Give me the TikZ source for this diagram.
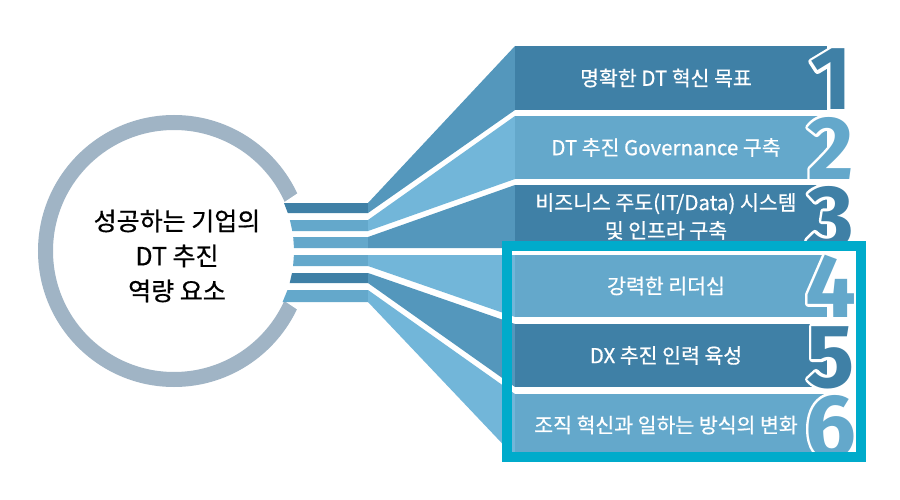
\documentclass[tikz,border=0pt]{standalone}
\usepackage{fontspec}
\setmainfont{Noto Sans CJK KR}
\newfontfamily\medfont{Noto Sans CJK KR}[FakeBold=0.6]
\newfontfamily\digitfont{Fira Sans}
\definecolor{bdark}{HTML}{3F80A6}
\definecolor{blight}{HTML}{64A8CB}
\definecolor{fmed}{HTML}{5497BC}
\definecolor{flight}{HTML}{72B6D9}
\definecolor{ringc}{HTML}{A0B4C5}
\definecolor{cyanbox}{HTML}{00ABCB}
\newcommand\outlined[1]{\special{pdf:literal direct 1 Tr 6 w 1 j 1 1 1 RG}#1\special{pdf:literal direct 0 Tr}}
\newcommand\mydigit[4]{%
  \node[numfont] at #2 {\outlined{#4}};
  \node[numfont,text=#3] (#1) at #2 {#4};}
\begin{document}
\begin{tikzpicture}[x=1pt,y=-1pt,
  bartext/.style={text=white,font=\medfont\fontsize{20.5}{28}\selectfont,align=center,inner sep=0pt},
  numfont/.style={font=\digitfont\bfseries\fontsize{90}{90}\selectfont,inner sep=0pt,anchor=base}]
\useasboundingbox[fill=white] (0,0) rectangle (900,500);
% ring
\draw[ringc,line width=15pt] (174,251) circle[radius=128.5pt];
\fill[white] (280,205) -- (310,185) -- (340,185) -- (340,318) -- (310,318) -- (280,298) -- cycle;
\node[font=\medfont\fontsize{25}{35}\selectfont,align=center,inner sep=0pt] (center) at (177,256) {성공하는 기업의\\DT 추진\\역량 요소};
% stripes
\fill[bdark]  (284,203) -- (368,203) -- (368,213) -- (287.8,213) -- cycle;
\fill[blight] (289.9,220) -- (368,220) -- (368,231) -- (292.3,231) -- cycle;
\fill[blight] (293.2,237) -- (368,237) -- (368,248) -- (294,248) -- cycle;
\fill[blight] (293.9,255) -- (368,255) -- (368,266) -- (293.1,266) -- cycle;
\fill[bdark]  (292,273) -- (368,273) -- (368,283) -- (289.7,283) -- cycle;
\fill[blight] (287.5,290) -- (368,290) -- (368,302) -- (282.6,302) -- cycle;
% fans
\fill[fmed]   (368,203) -- (515,46)  -- (515,110) -- (368,213) -- cycle;
\fill[flight] (368,220) -- (515,116) -- (515,179) -- (368,231) -- cycle;
\fill[fmed]   (368,237) -- (515,185) -- (515,248) -- (368,248) -- cycle;
\fill[flight] (368,255) -- (515,255) -- (515,317) -- (368,266) -- cycle;
\fill[fmed]   (368,273) -- (515,324) -- (515,387) -- (368,283) -- cycle;
\fill[flight] (368,290) -- (515,394) -- (515,457) -- (368,302) -- cycle;
% bars
\fill[bdark]  (515,46)  rectangle (827,110);
\fill[blight] (515,116) rectangle (827,179);
\fill[bdark]  (515,185) rectangle (827,248);
\fill[blight] (515,255) rectangle (827,317);
\fill[bdark]  (515,324) rectangle (827,387);
\fill[blight] (515,394) rectangle (827,457);
% texts
\node[bartext] (t1) at (666,78) {명확한 DT 혁신 목표};
\node[bartext] (t2) at (666,147.5) {DT 추진 Governance 구축};
\node[bartext] (t3) at (666,216.5) {비즈니스 주도(IT/Data) 시스템\\및 인프라 구축};
\node[bartext] (t4) at (666,286) {강력한 리더십};
\node[bartext] (t5) at (666,355.5) {DX 추진 인력 육성};
\node[bartext] (t6) at (666,425) {조직 혁신과 일하는 방식의 변화};
% digits
\mydigit{n1}{(831,110)}{bdark}{1}
\mydigit{n2}{(831,179)}{blight}{2}
\mydigit{n3}{(831,248)}{bdark}{3}
\mydigit{n4}{(831,317)}{blight}{4}
\mydigit{n5}{(831,387)}{bdark}{5}
\mydigit{n6}{(831,457)}{blight}{6}
% highlight box
\draw[cyanbox,line width=10pt] (507,246) rectangle (861,457);
\end{tikzpicture}
\end{document}
